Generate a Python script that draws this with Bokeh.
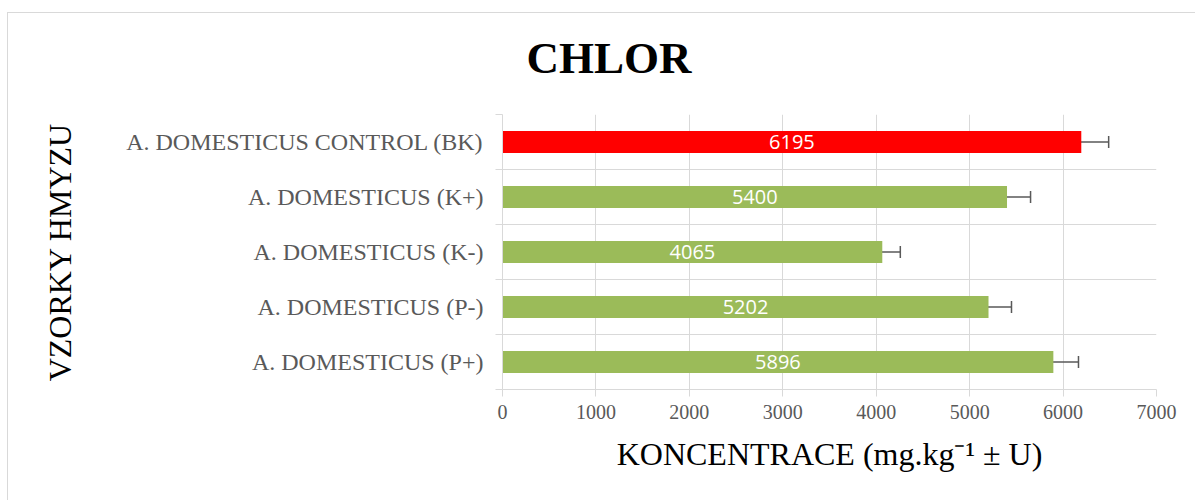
from bokeh.plotting import figure
from bokeh.models import ColumnDataSource, FixedTicker, Whisker, TeeHead, LabelSet, Title
from bokeh.core.properties import value
from bokeh.embed import file_html
from bokeh.resources import INLINE

# ---- data ----
categories = ["A. DOMESTICUS (P+)", "A. DOMESTICUS (P-)", "A. DOMESTICUS (K-)",
              "A. DOMESTICUS (K+)", "A. DOMESTICUS CONTROL (BK)"]
values = [5896, 5202, 4065, 5400, 6195]
uncertainty = [269, 246, 193, 252, 293]
bar_colors = ["#9bbb59", "#9bbb59", "#9bbb59", "#9bbb59", "#ff0000"]
x_ticks = [0, 1000, 2000, 3000, 4000, 5000, 6000, 7000]
title_text = "CHLOR"
x_title = "KONCENTRACE (mg.kg\u207b\u00b9 \u00b1 U)"
y_title = "VZORKY HMYZU"

positions = [i + 0.5 for i in range(len(categories))]
boundaries = [float(i) for i in range(len(categories) + 1)]

source = ColumnDataSource(dict(
    y=positions,
    value=values,
    mid=[v / 2 for v in values],
    label=[str(v) for v in values],
    lower=[v - u for v, u in zip(values, uncertainty)],
    upper=[v + u for v, u in zip(values, uncertainty)],
    color=bar_colors,
))

FRAME_L, FRAME_T, FRAME_R, FRAME_B = 494, 101, 1148, 376
W, H = 1188, 488

p = figure(width=W, height=H, x_range=(0, 7000), y_range=(0, len(categories)),
           output_backend="svg", toolbar_location=None,
           min_border_left=FRAME_L, min_border_right=W - FRAME_R,
           min_border_top=FRAME_T, min_border_bottom=H - FRAME_B)
p.styles = {"margin-top": "12px", "margin-left": "7px",
            "border-left": "1px solid #d9d9d9", "border-top": "1px solid #d9d9d9"}
p.outline_line_color = None
p.background_fill_color = "white"
p.border_fill_color = "white"
p.title = None

# blank spacer panel between the title and the plot area
p.add_layout(Title(text=" ", text_font_size="1px", standoff=29), "above")

# title
p.add_layout(Title(text=title_text, align="left", offset=24, vertical_align="bottom",
                   standoff=0, text_font="Liberation Serif", text_font_size="45px",
                   text_font_style="bold", text_color="black"), "above")

p.hbar(y="y", right="value", left=0, height=0.4, color="color", line_color=None,
       source=source)

p.add_layout(Whisker(source=source, base="y", lower="lower", upper="upper",
                     dimension="width", line_color="#595959", line_width=1.5,
                     upper_head=TeeHead(size=12, line_color="#595959", line_width=1.5),
                     lower_head=TeeHead(size=12, line_color="#595959", line_width=1.5)))

p.add_layout(LabelSet(x="mid", y="y", text="label", source=source,
                      text_align="center", text_baseline="middle",
                      text_color="white", text_font=value("Open Sans"),
                      text_font_size="20px"))

# x axis
xaxis = p.below[0]
xaxis.ticker = FixedTicker(ticks=x_ticks)
xaxis.axis_line_color = "#d9d9d9"
xaxis.major_tick_line_color = "#d9d9d9"
xaxis.major_tick_out = 7
xaxis.major_tick_in = 0
xaxis.minor_tick_line_color = None
xaxis.major_label_text_font = "Liberation Serif"
xaxis.major_label_text_font_size = "20px"
xaxis.major_label_text_color = "#595959"
xaxis.major_label_standoff = 8
xaxis.axis_label = x_title
xaxis.axis_label_text_font = "Liberation Serif"
xaxis.axis_label_text_font_size = "32px"
xaxis.axis_label_text_font_style = "normal"
xaxis.axis_label_text_color = "black"
xaxis.axis_label_standoff = 14

# y axis
yaxis = p.left[0]
yaxis.ticker = FixedTicker(ticks=positions, minor_ticks=boundaries)
yaxis.major_label_overrides = {pos: c for pos, c in zip(positions, categories)}
yaxis.axis_line_color = "#d9d9d9"
yaxis.major_tick_line_color = None
yaxis.minor_tick_line_color = "#d9d9d9"
yaxis.minor_tick_out = 7
yaxis.minor_tick_in = 0
yaxis.major_label_text_font = "Liberation Serif"
yaxis.major_label_text_font_size = "24px"
yaxis.major_label_text_color = "#595959"
yaxis.major_label_standoff = 12
yaxis.axis_label = y_title
yaxis.axis_label_text_font = "Liberation Serif"
yaxis.axis_label_text_font_size = "32px"
yaxis.axis_label_text_font_style = "normal"
yaxis.axis_label_text_color = "black"
yaxis.axis_label_standoff = 45

# grids
p.xgrid.ticker = FixedTicker(ticks=x_ticks)
p.xgrid.grid_line_color = "#d9d9d9"
p.ygrid.ticker = FixedTicker(ticks=boundaries)
p.ygrid.grid_line_color = "#d9d9d9"

open("out.html", "w").write(file_html(p, INLINE))
